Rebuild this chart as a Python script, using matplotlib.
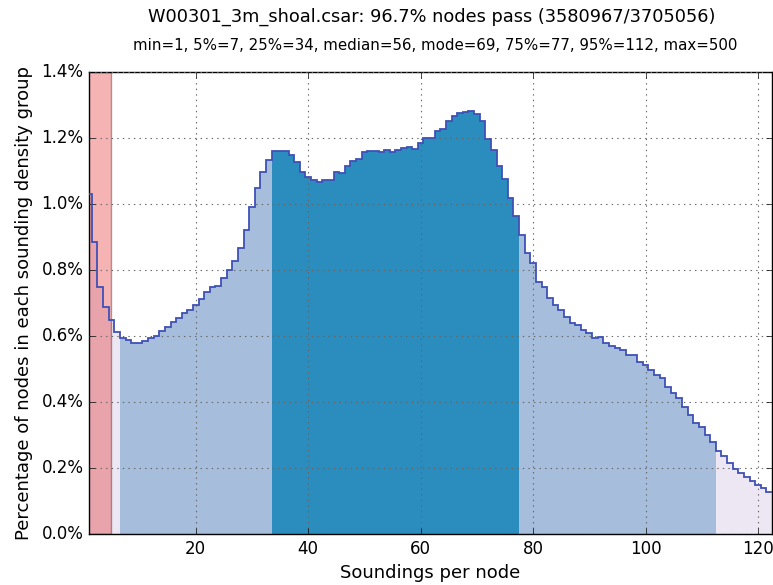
"""
Sounding density histogram for a CSAR surface: percentage of nodes per
soundings-per-node value, with percentile bands and the failing range.

Output: out.png
"""

import matplotlib

matplotlib.use("Agg")
import matplotlib.pyplot as plt
import numpy as np
from matplotlib.ticker import PercentFormatter

# ----------------------------------------------------------------- dati
SOUNDINGS = list(range(1, 123))
PCT_NODES = [
    1.030, 0.885, 0.748, 0.688, 0.648, 0.612, 0.594, 0.588, 0.580, 0.580,
    0.584, 0.594, 0.600, 0.616, 0.628, 0.641, 0.655, 0.671, 0.679, 0.694,
    0.711, 0.732, 0.749, 0.753, 0.775, 0.800, 0.827, 0.868, 0.920, 0.990,
    1.050, 1.097, 1.133, 1.161, 1.161, 1.161, 1.148, 1.127, 1.098, 1.083,
    1.073, 1.068, 1.073, 1.073, 1.098, 1.095, 1.115, 1.131, 1.137, 1.158,
    1.160, 1.162, 1.158, 1.165, 1.158, 1.165, 1.170, 1.174, 1.167, 1.184,
    1.199, 1.199, 1.221, 1.226, 1.252, 1.267, 1.275, 1.280, 1.283, 1.273,
    1.252, 1.196, 1.165, 1.115, 1.076, 1.019, 0.964, 0.906, 0.852, 0.820,
    0.765, 0.749, 0.714, 0.694, 0.679, 0.658, 0.640, 0.633, 0.618, 0.610,
    0.593, 0.598, 0.578, 0.570, 0.563, 0.558, 0.542, 0.542, 0.522, 0.512,
    0.497, 0.482, 0.472, 0.445, 0.426, 0.411, 0.385, 0.361, 0.335, 0.323,
    0.300, 0.280, 0.252, 0.237, 0.216, 0.196, 0.184, 0.172, 0.162, 0.148,
    0.138, 0.128,
]
P5, P25, P75, P95 = 7, 34, 77, 112
MIN_SOUNDINGS = 5  # sotto questa soglia il nodo non passa

TITLE = "W00301_3m_shoal.csar: 96.7% nodes pass (3580967/3705056)"
SUBTITLE = "min=1, 5%=7, 25%=34, median=56, mode=69, 75%=77, 95%=112, max=500"

C_TAIL, C_MID, C_CORE = "#ece7f2", "#a6bddb", "#2b8cbe"
C_LINE = "#3f51b5"


def band_color(n):
    if n < P5 or n > P95:
        return C_TAIL
    if n < P25 or n > P75:
        return C_MID
    return C_CORE


def main() -> None:
    plt.style.use("classic")
    x = np.array(SOUNDINGS)
    y = np.array(PCT_NODES)

    fig = plt.figure(figsize=(7.73, 5.85), dpi=100, facecolor="white")
    ax = fig.add_axes([89 / 773, 1 - 534 / 585, 683 / 773, 462 / 585])

    ax.bar(x, y, width=1.0, align="center", color=[band_color(n) for n in x],
           edgecolor="none", linewidth=0, zorder=1)
    ax.stairs(y, np.append(x - 0.5, x[-1] + 0.5), baseline=None,
              color=C_LINE, lw=1.3, zorder=3)
    ax.axvspan(0, MIN_SOUNDINGS, facecolor="#e31a1c", edgecolor="k",
               alpha=0.33, lw=1.0, zorder=2)

    ax.set_xlim(1, 122.5)
    ax.set_ylim(0, 1.4)
    ax.yaxis.set_major_formatter(PercentFormatter(xmax=100, decimals=1))
    ax.grid(True, color="#666666", ls=":", lw=0.8)
    ax.set_axisbelow(False)
    ax.tick_params(labelsize=12)
    ax.set_xlabel("Soundings per node", fontsize=13)
    ax.set_ylabel("Percentage of nodes in each sounding density group", fontsize=13,
                  labelpad=6)

    fig.text(0.558, 1 - 17 / 585, TITLE, ha="center", va="center", fontsize=12.8)
    fig.text(0.563, 1 - 46 / 585, SUBTITLE, ha="center", va="center", fontsize=10.8)

    fig.savefig("out.png", dpi=100, facecolor="white")


if __name__ == "__main__":
    main()
